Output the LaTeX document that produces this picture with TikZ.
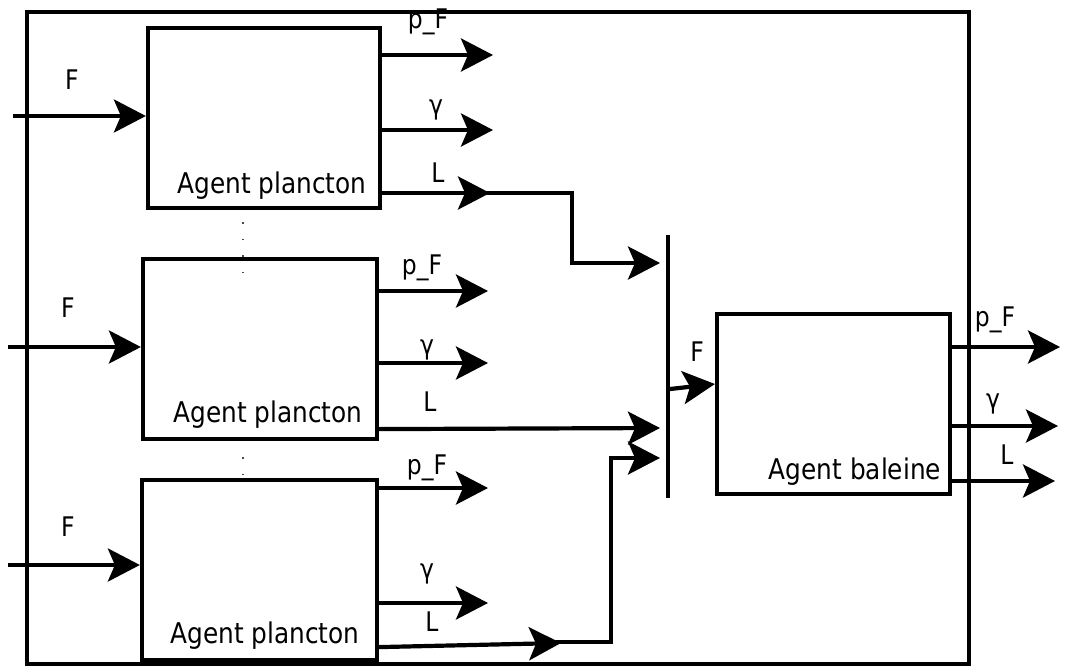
\documentclass[tikz,border=0pt]{standalone}
\usepackage{fontspec}
\setmainfont{DejaVu Sans}[FakeStretch=0.87]
\usetikzlibrary{arrows.meta,calc}
\begin{document}
\begin{tikzpicture}[x=1pt,y=-1pt,
  box/.style={draw,line width=4.2pt,inner sep=0pt,minimum height=180pt},
  frm/.style={draw,line width=4.2pt,inner sep=0pt},
  arr/.style={line width=4.2pt,-{Stealth[length=32pt,width=33pt,inset=7pt]}},
  plain/.style={line width=4.2pt},
  lab/.style={font=\fontsize{27}{32}\selectfont,inner sep=0pt},
  agent/.style={font=\fontsize{28.5}{34}\selectfont,inner sep=0pt},
  dots/.style={line width=1.5pt,dash pattern=on 1.5pt off 15pt,black!70}]
\useasboundingbox (0,0) rectangle (1067,666);
\node[frm,minimum width=942pt,minimum height=652pt] (frame) at (498,338) {};
% boxes
\node[box,minimum width=232pt] (p1) at (264,118) {};
\node[box,minimum width=234pt] (p2) at (260,349) {};
\node[box,minimum width=235pt] (p3) at (259.5,570) {};
\node[box,minimum width=233pt] (whale) at (833.5,404) {};
% box labels
\node[agent] (a1) at (272,186) {Agent plancton};
\node[agent] (a2) at (268,415) {Agent plancton};
\node[agent] (a3) at (265,636) {Agent plancton};
\node[agent] (a4) at (855,472) {Agent baleine};
% dotted links
\coordinate (d1a) at (243,222);
\coordinate (d1b) at (243,275);
\coordinate (d2a) at (243,457);
\coordinate (d2b) at (243,478);
\draw[dots] (d1a) -- (d1b);
\draw[dots] (d2a) -- (d2b);
% inputs
\coordinate (in1) at (13,116);
\coordinate (in2) at (8,347);
\coordinate (in3) at (8,565);
\draw[arr] (in1) -- (in1 -| p1.west);
\draw[arr] (in2) -- (in2 -| p2.west);
\draw[arr] (in3) -- (in3 -| p3.west);
\node[lab] (f1) at (72,80) {F};
\node[lab] (f2) at (68,308) {F};
\node[lab] (f3) at (68,527) {F};
% outputs box 1
\coordinate (o1p) at (493,55);
\coordinate (o1g) at (493,130);
\coordinate (o1L) at (490,193);
\draw[arr] (o1p -| p1.east) -- (o1p);
\draw[arr] (o1g -| p1.east) -- (o1g);
\draw[arr] (o1L -| p1.east) -- (o1L);
\node[lab] (l1p) at (428,22) {p\_F};
\node[lab] (l1g) at (436,110) {γ};
\node[lab] (l1L) at (438,173) {L};
% outputs box 2
\coordinate (o2p) at (488,291);
\coordinate (o2g) at (488,363);
\draw[arr] (o2p -| p2.east) -- (o2p);
\draw[arr] (o2g -| p2.east) -- (o2g);
\coordinate (s2L) at ($(p2.south east)+(0,-12)$);
\node[lab] (l2p) at (422,268) {p\_F};
\node[lab] (l2g) at (427,350) {γ};
\node[lab] (l2L) at (430,402) {L};
% outputs box 3
\coordinate (o3p) at (488,488);
\coordinate (o3g) at (488,603);
\draw[arr] (o3p -| p3.east) -- (o3p);
\draw[arr] (o3g -| p3.east) -- (o3g);
\coordinate (s3L) at ($(p3.south east)+(0,-15)$);
\coordinate (o3L) at (561,643);
\draw[arr] (s3L) -- (o3L);
\node[lab] (l3p) at (427,468) {p\_F};
\node[lab] (l3g) at (427,574) {γ};
\node[lab] (l3L) at (432,622) {L};
% collector bar
\coordinate (bartop) at (668,235);
\coordinate (barbot) at (668,498);
\draw[plain] (bartop) -- (barbot);
\coordinate (b1) at (660,263);
\coordinate (b2) at (660,428);
\coordinate (b3) at (660,458);
\coordinate (k1) at (572,263);
\coordinate (k3) at (611,458);
\draw[arr] ($(o1L)+(-10,0)$) -| (k1) -- (b1);
\draw[arr] (s2L) -- (b2);
\draw[arr] ($(o3L)+(-6,-1)$) -| (k3) -- (b3);
% bar to whale
\coordinate (bo) at (670,389);
\draw[arr] (bo) -- ($(whale.west)+(0,-20)$);
\node[lab] (fw) at (697,352) {F};
% whale outputs
\coordinate (w1) at (1060,347);
\coordinate (w2) at (1058,426);
\coordinate (w3) at (1055,481);
\draw[arr] (w1 -| whale.east) -- (w1);
\draw[arr] (w2 -| whale.east) -- (w2);
\draw[arr] (w3 -| whale.east) -- (w3);
\node[lab] (lwp) at (995,320) {p\_F};
\node[lab] (lwg) at (993,404) {γ};
\node[lab] (lwL) at (1007,455) {L};
\end{tikzpicture}
\end{document}
